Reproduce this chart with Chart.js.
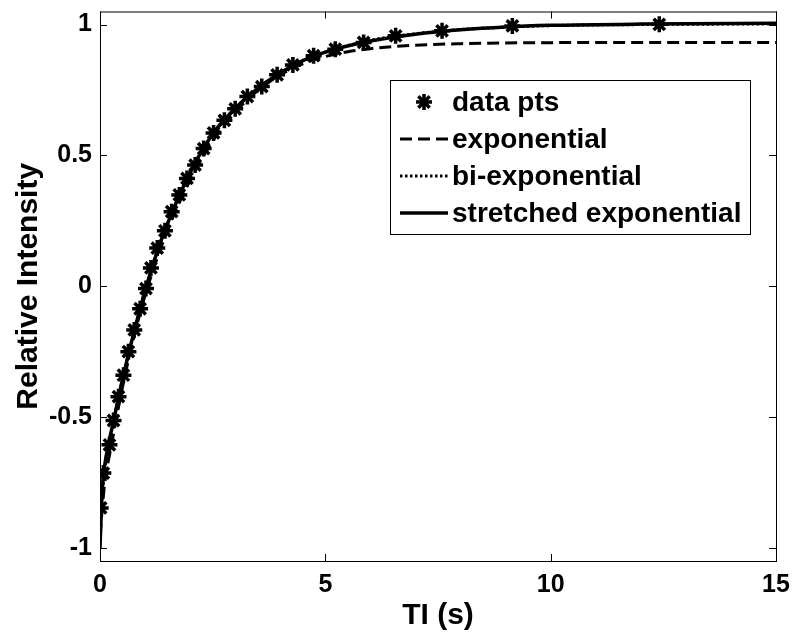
<!DOCTYPE html>
<html>
<head>
<meta charset="utf-8">
<script src="https://cdn.jsdelivr.net/npm/chart.js@4"></script>
<style>
  html, body { margin: 0; padding: 0; background: #fff; }
</style>
</head>
<body>
<canvas id="chart" width="800" height="634"></canvas>
<script>
// measured data points (TI in s, relative intensity)
const tiPts = [0.015, 0.074, 0.21, 0.30, 0.41, 0.52, 0.63, 0.76, 0.89, 1.02, 1.13, 1.27, 1.44, 1.59, 1.76, 1.93,
  2.11, 2.30, 2.52, 2.76, 3.0, 3.27, 3.59, 3.93, 4.28, 4.74, 5.22, 5.85, 6.56, 7.59, 9.15, 12.41];
const intensityPts = [-0.847, -0.714, -0.606, -0.513, -0.422, -0.34, -0.25, -0.167, -0.086, -0.009, 0.07, 0.146,
  0.212, 0.285, 0.349, 0.412, 0.463, 0.526, 0.586, 0.634, 0.678, 0.725, 0.763, 0.808, 0.846, 0.881, 0.906,
  0.932, 0.957, 0.976, 0.995, 1.001];

// fitted curves
const tiExp = [0, 0.1, 0.25, 0.5, 0.75, 1, 1.5, 2, 2.5, 3, 3.5, 4, 4.5, 5, 5.5, 6, 7, 8, 9, 10, 12, 15];
const expFit = [-0.95, -0.76, -0.61, -0.385, -0.195, -0.035, 0.215, 0.405, 0.555, 0.665, 0.748, 0.808, 0.85,
  0.878, 0.896, 0.908, 0.921, 0.927, 0.93, 0.931, 0.932, 0.932];

const tiFit = [0, 0.05, 0.1, 0.2, 0.3, 0.5, 0.75, 1, 1.25, 1.5, 2, 2.5, 3, 3.5, 4, 4.5, 5, 6, 7, 8, 9, 10, 12, 15];
const biExpFit = [-0.93, -0.80, -0.71, -0.60, -0.515, -0.355, -0.175, -0.015, 0.125, 0.24, 0.435, 0.58, 0.68,
  0.755, 0.815, 0.862, 0.895, 0.94, 0.965, 0.981, 0.99, 0.996, 1.0, 1.003];
const stretchedFit = [-1.0, -0.78, -0.69, -0.595, -0.515, -0.355, -0.178, -0.018, 0.122, 0.24, 0.435, 0.582,
  0.68, 0.756, 0.815, 0.862, 0.895, 0.937, 0.963, 0.98, 0.991, 0.997, 1.002, 1.005];

const xTicks = [0, 5, 10, 15];
const yTicks = [-1, -0.5, 0, 0.5, 1];
const legendLabels = ['data pts', 'exponential', 'bi-exponential', 'stretched exponential'];

const FONT = "'Liberation Sans', Arial, sans-serif";
const pairs = (xs, ys) => xs.map((x, i) => ({ x: x, y: ys[i] }));

// box with inward ticks on all four sides + legend inside the axes
const matlabAxes = {
  id: 'matlabAxes',
  afterDatasetsDraw(chart) {
    const { ctx, chartArea: a, scales } = chart;
    ctx.save();
    ctx.strokeStyle = '#000';
    ctx.lineWidth = 1;
    ctx.strokeRect(a.left + 0.5, a.top + 0.5, a.right - a.left, a.bottom - a.top);
    const tl = 7;
    ctx.beginPath();
    xTicks.forEach(v => {
      const px = Math.round(scales.x.getPixelForValue(v)) + 0.5;
      ctx.moveTo(px, a.bottom); ctx.lineTo(px, a.bottom - tl);
      ctx.moveTo(px, a.top); ctx.lineTo(px, a.top + tl);
    });
    yTicks.forEach(v => {
      const py = Math.round(scales.y.getPixelForValue(v)) + 0.5;
      ctx.moveTo(a.left, py); ctx.lineTo(a.left + tl, py);
      ctx.moveTo(a.right, py); ctx.lineTo(a.right - tl, py);
    });
    ctx.stroke();

    // legend
    const bx = 390, by = 80, bw = 360, bh = 154;
    ctx.fillStyle = '#fff';
    ctx.fillRect(bx, by, bw, bh);
    ctx.strokeRect(bx + 0.5, by + 0.5, bw, bh);
    ctx.font = 'bold 28px ' + FONT;
    ctx.textBaseline = 'middle';
    ctx.fillStyle = '#000';
    const rowY = [102, 139, 176, 213];
    chart.data.datasets.forEach((ds, i) => {
      const y = rowY[i];
      if (ds.showLine) {
        ctx.save();
        ctx.lineWidth = ds.borderWidth;
        ctx.setLineDash(ds.borderDash || []);
        ctx.beginPath();
        ctx.moveTo(400, y); ctx.lineTo(448, y);
        ctx.stroke();
        ctx.restore();
      } else {
        ctx.save();
        ctx.lineWidth = ds.pointBorderWidth;
        Chart.helpers.drawPoint(ctx, { pointStyle: 'star', radius: ds.pointRadius, rotation: 0, borderWidth: ds.pointBorderWidth }, 424, y);
        ctx.restore();
      }
      ctx.fillText(legendLabels[i], 452, y + 1);
    });
    ctx.restore();
  }
};

new Chart(document.getElementById('chart'), {
  type: 'scatter',
  data: {
    datasets: [
      {
        label: legendLabels[0],
        data: pairs(tiPts, intensityPts),
        showLine: false,
        pointStyle: 'star',
        pointRadius: 8,
        pointBorderWidth: 3.5,
        pointBorderColor: '#000',
        pointBackgroundColor: '#000'
      },
      {
        label: legendLabels[1],
        data: pairs(tiExp, expFit),
        showLine: true,
        borderColor: '#000',
        borderWidth: 3,
        borderDash: [12, 6],
        pointRadius: 0,
        cubicInterpolationMode: 'monotone'
      },
      {
        label: legendLabels[2],
        data: pairs(tiFit, biExpFit),
        showLine: true,
        borderColor: '#000',
        borderWidth: 3,
        borderDash: [2.5, 2.5],
        pointRadius: 0,
        cubicInterpolationMode: 'monotone'
      },
      {
        label: legendLabels[3],
        data: pairs(tiFit, stretchedFit),
        showLine: true,
        borderColor: '#000',
        borderWidth: 3.5,
        pointRadius: 0,
        cubicInterpolationMode: 'monotone'
      }
    ]
  },
  options: {
    responsive: false,
    animation: false,
    devicePixelRatio: 1,
    layout: { padding: { top: 9, right: 24, left: 0, bottom: 0 } },
    plugins: { legend: { display: false }, tooltip: { enabled: false } },
    scales: {
      x: {
        type: 'linear',
        min: 0,
        max: 15,
        afterBuildTicks: s => { s.ticks = xTicks.map(v => ({ value: v })); },
        afterFit: s => { s.height = 73; s.paddingLeft = 0; s.paddingRight = 0; },
        grid: { display: false, drawTicks: false },
        border: { display: false },
        ticks: { color: '#000', font: { family: FONT, size: 25, weight: 'bold' }, padding: 9, maxRotation: 0 },
        title: { display: true, text: 'TI (s)', color: '#000', font: { family: FONT, size: 30, weight: 'bold' }, padding: { top: 0, bottom: 0 } }
      },
      y: {
        type: 'linear',
        min: -1.05,
        max: 1.05,
        afterBuildTicks: s => { s.ticks = yTicks.map(v => ({ value: v })); },
        afterFit: s => { s.width = 100; s.paddingTop = 0; s.paddingBottom = 0; },
        grid: { display: false, drawTicks: false },
        border: { display: false },
        ticks: { color: '#000', font: { family: FONT, size: 25, weight: 'bold' }, padding: 8, callback: v => String(v) },
        title: { display: true, text: 'Relative Intensity', color: '#000', font: { family: FONT, size: 30, weight: 'bold' }, padding: { top: 11, bottom: 0 } }
      }
    }
  },
  plugins: [matlabAxes]
});
</script>
</body>
</html>
